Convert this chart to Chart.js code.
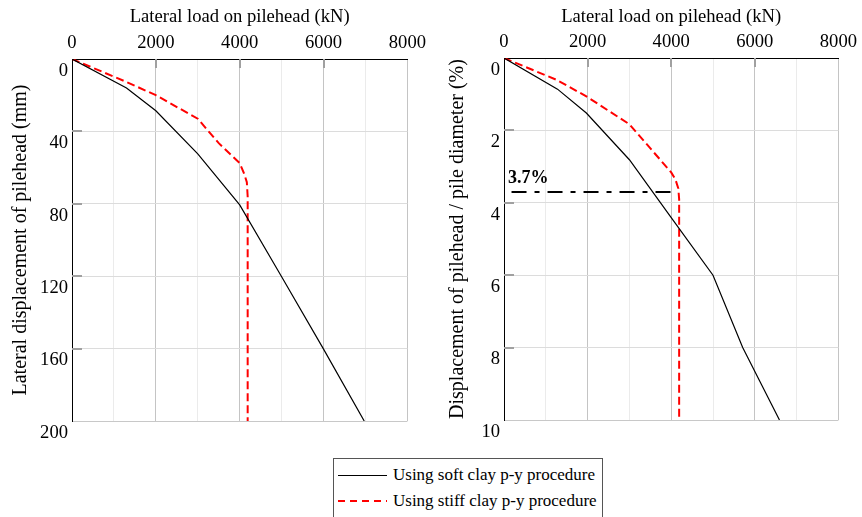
<!DOCTYPE html>
<html>
<head>
<meta charset="utf-8">
<script src="https://cdn.jsdelivr.net/npm/chart.js@4"></script>
<style>
body { margin: 0; background: #fff; width: 862px; height: 517px; position: relative; overflow: hidden; font-family: "Liberation Serif", "Times New Roman", serif; }
#left { position: absolute; left: 0; top: 0; }
#right { position: absolute; left: 430px; top: 0; }
#legend { position: absolute; left: 333px; top: 458px; width: 270px; height: 80px; border: 1px solid #555; box-sizing: border-box; font-size: 17px; color: #000; }
.row { position: absolute; left: 4px; height: 20px; display: flex; align-items: center; white-space: nowrap; }
.sample { width: 49px; margin-right: 6px; }
</style>
</head>
<body>
<canvas id="left" width="431" height="445"></canvas>
<canvas id="right" width="432" height="445"></canvas>
<div id="legend"></div>
<script>
// tick labels
var loadTicks = [0, 2000, 4000, 6000, 8000]
var dispTicksL = [0, 40, 80, 120, 160, 200]
var dispTicksR = [0, 2, 4, 6, 8, 10]

var seriesNames = ["Using soft clay p-y procedure", "Using stiff clay p-y procedure"]

// left chart, displacement in mm
var softLoadL = [0, 1300, 2000, 3000, 4000, 5000, 6000, 6970]
var softDispL = [0, 16, 28.6, 52.4, 80.6, 120.3, 160.3, 200]
var stiffLoadL = [0, 1280, 2000, 3000, 3500, 4000, 4100, 4170, 4190, 4190]
var stiffDispL = [0, 12.5, 20, 33, 46.5, 57.5, 63, 68, 76, 200]

// right chart, displacement / pile diameter in %
var softLoadR = [0, 1280, 1970, 3000, 3970, 5000, 5710, 6590]
var softDispR = [0, 0.86, 1.52, 2.81, 4.36, 6.0, 8.0, 10]
var stiffLoadR = [0, 1250, 1970, 3000, 4000, 4100, 4170, 4190, 4190]
var stiffDispR = [0, 0.6, 1.06, 1.83, 3.16, 3.35, 3.6, 3.9, 10]

// 3.7% marker
var markLoad = [180, 4000]
var markDisp = [3.7, 3.7]
var markLabel = "3.7%"

var serif = "'Liberation Serif', 'Times New Roman', serif"
var tickFont = {family: serif, size: 18.6}
var xTitleFont = {family: serif, size: 18.6}
var yTitleFont = {family: serif, size: 20}

function pts(xs, ys) {
  return xs.map((x, i) => ({x: x, y: ys[i]}))
}

var softStyle = {borderColor: "#000", borderWidth: 1.2, borderDash: []}
var stiffStyle = {borderColor: "#ff0000", borderWidth: 2, borderDash: [8, 4]}

function series(xs, ys, style, label) {
  return Object.assign({
    label: label,
    data: pts(xs, ys),
    pointRadius: 0,
    tension: 0,
    fill: false
  }, style)
}

// short grey tick marks drawn inside the frame
var innerTicks = {
  id: "innerTicks",
  beforeDatasetsDraw(chart) {
    var ctx = chart.ctx, a = chart.chartArea, x = chart.scales.x, y = chart.scales.y
    ctx.save()
    ctx.strokeStyle = "#a0a0a0"
    ctx.lineWidth = 2
    ctx.beginPath()
    y.ticks.forEach(t => {
      if (t.value > y.min && t.value < y.max) {
        var p = Math.round(y.getPixelForValue(t.value))
        ctx.moveTo(a.left, p); ctx.lineTo(a.left + 10, p)
      }
    })
    x.ticks.forEach(t => {
      if (loadTicks.indexOf(t.value) > -1 && t.value > x.min && t.value < x.max) {
        var p = Math.round(x.getPixelForValue(t.value))
        ctx.moveTo(p, a.top); ctx.lineTo(p, a.top + 9)
      }
    })
    ctx.stroke()
    ctx.restore()
  }
}

var markText = {
  id: "markText",
  afterDatasetsDraw(chart) {
    if (!chart.options.plugins.markText.show) return
    var ctx = chart.ctx, x = chart.scales.x, y = chart.scales.y
    ctx.save()
    ctx.fillStyle = "#000"
    ctx.font = "bold 18px " + serif
    ctx.textBaseline = "middle"
    ctx.fillText(markLabel, x.getPixelForValue(0) + 4, y.getPixelForValue(markDisp[0]) - 14)
    ctx.restore()
  }
}

function makeChart(id, datasets, dispTicks, yTitle, yWidth, yTitlePad, xHeight, padBottom, showMark) {
  var ymax = dispTicks[dispTicks.length - 1]
  return new Chart(id, {
    type: "line",
    data: {datasets: datasets},
    options: {
      responsive: false,
      animation: false,
      layout: {padding: {left: 0, right: 22, top: 0, bottom: padBottom}},
      plugins: {legend: {display: false}, tooltip: {enabled: false}, markText: {show: showMark}},
      scales: {
        x: {
          type: "linear",
          position: "top",
          min: loadTicks[0],
          max: loadTicks[loadTicks.length - 1],
          ticks: {
            stepSize: 1000, autoSkip: false, maxRotation: 0, padding: 5, color: "#000", font: tickFont,
            callback: v => loadTicks.indexOf(v) > -1 ? String(v) : ""
          },
          grid: {
            drawTicks: false,
            color: c => c.tick && loadTicks.indexOf(c.tick.value) > -1 ? "#c4c4c4" : "#ebebeb"
          },
          border: {color: "#000", width: 1},
          title: {display: true, text: "Lateral load on pilehead (kN)", color: "#000", font: xTitleFont, padding: {top: 6, bottom: 0}},
          afterFit: s => { s.height = xHeight }
        },
        y: {
          type: "linear",
          reverse: true,
          min: dispTicks[0],
          max: ymax,
          ticks: {stepSize: dispTicks[1] - dispTicks[0], padding: 4, labelOffset: 12, color: "#000", font: tickFont},
          grid: {
            drawTicks: false,
            color: c => !c.tick || c.tick.value === 0 ? "rgba(0,0,0,0)" : (c.tick.value === ymax ? "#c8c8c8" : "#dcdcdc")
          },
          border: {color: "#000", width: 1},
          title: {display: true, text: yTitle, color: "#000", font: yTitleFont, padding: {top: yTitlePad, bottom: 0}},
          afterFit: s => { s.width = yWidth }
        }
      }
    },
    plugins: [innerTicks, markText]
  })
}

makeChart("left", [
  series(softLoadL, softDispL, softStyle, seriesNames[0]),
  series(stiffLoadL, stiffDispL, stiffStyle, seriesNames[1])
], dispTicksL, "Lateral displacement of pilehead (mm)", 72, 9, 59, 24, false)

makeChart("right", [
  series(softLoadR, softDispR, softStyle, seriesNames[0]),
  series(stiffLoadR, stiffDispR, stiffStyle, seriesNames[1]),
  series(markLoad, markDisp, {borderColor: "#000", borderWidth: 2, borderDash: [15, 8, 5, 8]}, markLabel)
], dispTicksR, "Displacement of pilehead / pile diameter (%)", 74, 16, 58, 25, true)

// legend built from the series names and styles
var styles = [softStyle, stiffStyle]
var legend = document.getElementById("legend")
seriesNames.forEach((name, i) => {
  var row = document.createElement("div")
  row.className = "row"
  row.style.top = (6 + i * 26) + "px"
  var s = document.createElement("span")
  s.className = "sample"
  var st = styles[i]
  s.style.height = st.borderWidth > 1.5 ? "2px" : "1px"
  s.style.background = st.borderDash.length
    ? "repeating-linear-gradient(to right, " + st.borderColor + " 0 7px, transparent 7px 12px)"
    : st.borderColor
  row.appendChild(s)
  var t = document.createElement("span")
  t.textContent = name
  row.appendChild(t)
  legend.appendChild(row)
})
</script>
</body>
</html>
